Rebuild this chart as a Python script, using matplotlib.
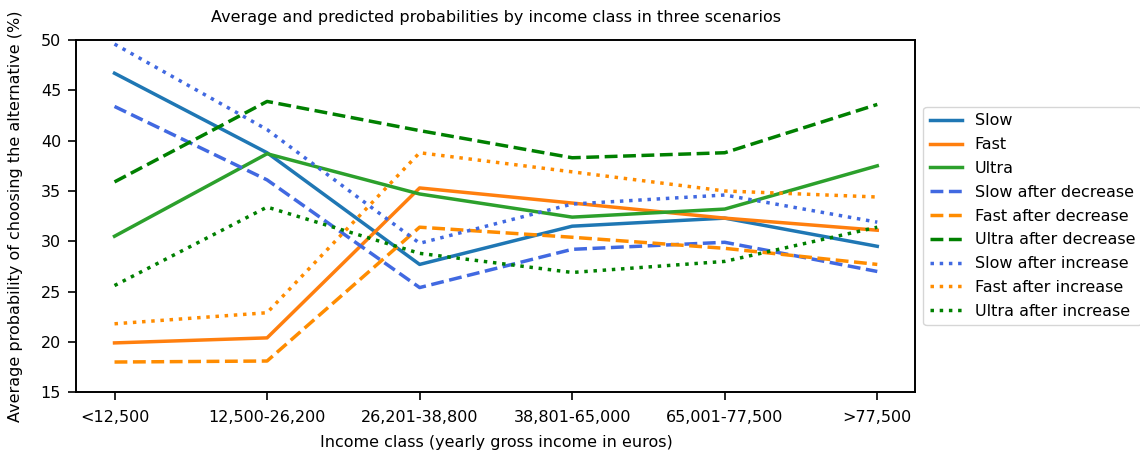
import matplotlib
matplotlib.use("Agg")
import matplotlib.pyplot as plt

income_classes = ["<12,500", "12,500-26,200", "26,201-38,800",
                  "38,801-65,000", "65,001-77,500", ">77,500"]

slow = [46.7, 38.8, 27.7, 31.5, 32.3, 29.5]
fast = [19.9, 20.4, 35.3, 33.8, 32.3, 31.1]
ultra = [30.5, 38.7, 34.7, 32.4, 33.2, 37.5]

slow_dec = [43.4, 36.1, 25.4, 29.2, 29.9, 27.0]
fast_dec = [18.0, 18.1, 31.4, 30.4, 29.3, 27.7]
ultra_dec = [35.9, 43.9, 41.0, 38.3, 38.8, 43.6]

slow_inc = [49.6, 41.1, 29.8, 33.7, 34.6, 31.9]
fast_inc = [21.8, 22.9, 38.8, 36.9, 35.0, 34.4]
ultra_inc = [25.6, 33.4, 28.8, 26.9, 28.0, 31.4]

series = [
    ("Slow", slow, "#1f77b4", "-"),
    ("Fast", fast, "#ff7f0e", "-"),
    ("Ultra", ultra, "#2ca02c", "-"),
    ("Slow after decrease", slow_dec, "royalblue", "--"),
    ("Fast after decrease", fast_dec, "darkorange", "--"),
    ("Ultra after decrease", ultra_dec, "green", "--"),
    ("Slow after increase", slow_inc, "royalblue", ":"),
    ("Fast after increase", fast_inc, "darkorange", ":"),
    ("Ultra after increase", ultra_inc, "green", ":"),
]

fs = 11.5

fig, ax = plt.subplots(figsize=(11.4, 4.55), dpi=100)
fig.subplots_adjust(left=0.067, right=0.803, top=0.912, bottom=0.138)

for label, vals, color, ls in series:
    ax.plot(income_classes, vals, color=color, linestyle=ls, linewidth=2.5, label=label)

ax.set_ylim(15, 50)
ax.set_yticks([15, 20, 25, 30, 35, 40, 45, 50])
ax.tick_params(axis="both", labelsize=fs, length=6, width=1.2, pad=5)
ax.tick_params(axis="x", pad=7)
for sp in ax.spines.values():
    sp.set_linewidth(1.4)

ax.set_title("Average and predicted probabilities by income class in three scenarios",
             fontsize=fs, pad=13)
ax.set_xlabel("Income class (yearly gross income in euros)", fontsize=fs, labelpad=7)
ax.set_ylabel("Average probability of choosing the alternative (%)", fontsize=fs, labelpad=13)

ax.legend(loc="center left", bbox_to_anchor=(1.0, 0.5), fontsize=fs,
          handlelength=2.0, borderaxespad=0.5, labelspacing=0.55)

fig.savefig("out.png", dpi=100)
